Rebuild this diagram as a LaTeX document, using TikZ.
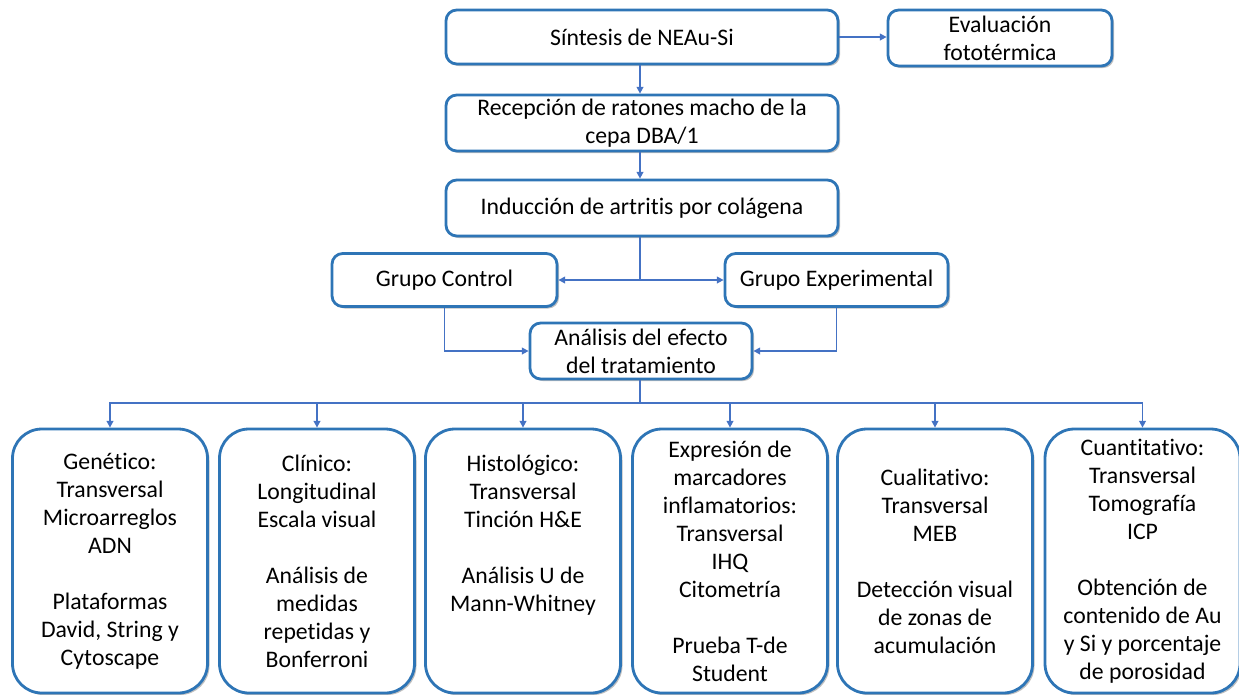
\documentclass[tikz,border=0pt]{standalone}
\usepackage{fontspec}
\setmainfont{Carlito}[Ligatures=NoCommon]
\usetikzlibrary{arrows.meta,shadows}
\definecolor{boxblue}{HTML}{2E75B6}
\definecolor{arrblue}{HTML}{4472C4}
\begin{document}
\begin{tikzpicture}[x=0.75pt,y=-0.75pt,
  base/.style={draw=boxblue, line width=2.1pt, fill=white, align=center, inner sep=0pt,
    text=black, font=\fontsize{17.8}{21}\selectfont,
    drop shadow={shadow xshift=1.5pt, shadow yshift=-1.5pt, opacity=0.25, fill=black}},
  topbox/.style n args={2}{base, rounded corners=8pt, minimum width=#1*0.75pt, minimum height=#2*0.75pt},
  botbox/.style={base, rounded corners=22pt, minimum width=195*0.75pt, minimum height=264*0.75pt},
  arr/.style={draw=arrblue, line width=1.1pt, -{Triangle[length=5pt,width=5pt]}},
  ln/.style={draw=arrblue, line width=1.1pt}]
\useasboundingbox (0,0) rectangle (1239,694);

\node[topbox={392}{54}] (sint) at (642,37) {Síntesis de NEAu-Si};
\node[topbox={224}{56}] (eval) at (1000,38) {Evaluación\\fototérmica};
\node[topbox={392}{56}] (recep) at (642,123) {Recepción de ratones macho de la\\cepa DBA/1};
\node[topbox={392}{56}] (induc) at (642,208) {Inducción de artritis por colágena};
\node[topbox={225}{53}] (ctrl) at (444.5,280) {Grupo Control};
\node[topbox={223}{53}] (exper) at (836.5,280) {Grupo Experimental};
\node[topbox={222}{56}] (anal) at (641,351) {Análisis del efecto\\del tratamiento};

\node[botbox] (b1) at (110,561) {Genético:\\Transversal\\Microarreglos\\ADN\\[21pt]Plataformas\\David, String y\\Cytoscape};
\node[botbox] (b2) at (317,561) {Clínico:\\Longitudinal\\Escala visual\\[21pt]Análisis de\\medidas\\repetidas y\\Bonferroni};
\node[botbox] (b3) at (523,561) {Histológico:\\Transversal\\Tinción H\&E\\[21pt]Análisis U de\\Mann-Whitney\\[21pt]\mbox{}};
\node[botbox] (b4) at (730,561) {Expresión de\\marcadores\\inflamatorios:\\Transversal\\IHQ\\Citometría\\[21pt]Prueba T-de\\Student};
\node[botbox] (b5) at (935,561) {Cualitativo:\\Transversal\\MEB\\[21pt]Detección visual\\de zonas de\\acumulación};
\node[botbox] (b6) at (1142.5,561) {Cuantitativo:\\Transversal\\Tomografía\\ICP\\[21pt]Obtención de\\contenido de Au\\y Si y porcentaje\\de porosidad};

\coordinate (split) at (640,280);
\coordinate (bus) at (640,403);

\draw[arr] (sint.east) -- (sint.east -| eval.west);
\draw[arr] (sint.south -| 640,0) -- (recep.north -| 640,0);
\draw[arr] (recep.south -| 640,0) -- (induc.north -| 640,0);
\draw[ln] (induc.south -| 640,0) -- (split);
\draw[arr] (split) -- (ctrl.east);
\draw[arr] (split) -- (exper.west);
\draw[arr] (ctrl.south) |- (anal.west);
\draw[arr] (exper.south) |- (anal.east);
\draw[ln] (anal.south -| 640,0) -- (bus);
\foreach \b in {b1,b2,b3,b4,b5,b6}{
  \draw[arr] (bus) -| (\b.north);
}
\end{tikzpicture}
\end{document}
